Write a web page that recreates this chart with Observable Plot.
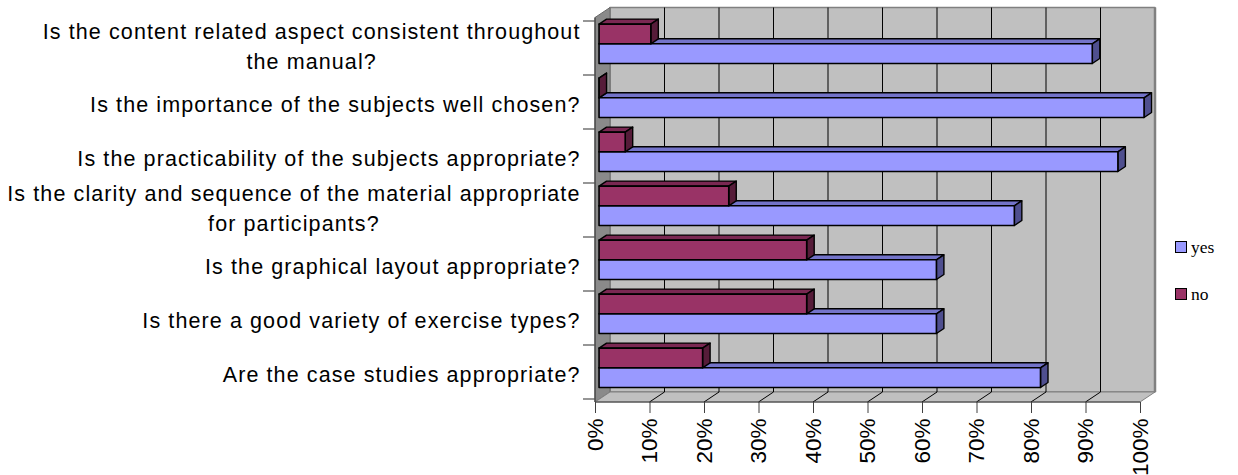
<!DOCTYPE html>
<html>
<head>
<meta charset="utf-8">
<script src="https://cdn.jsdelivr.net/npm/d3@7"></script>
<script src="https://cdn.jsdelivr.net/npm/@observablehq/plot@0.6"></script>
<style>
  body { margin: 0; background: #fff; }
  #wrap { position: relative; width: 1238px; height: 475px; overflow: hidden; }
  #wrap svg { position: absolute; left: 0; top: 0; }
  g[aria-label="text"] text { letter-spacing: 1.1px; }
  .legend { position: absolute; left: 1175px; font-family: "Liberation Serif", "Times New Roman", serif;
            font-size: 17.5px; line-height: 20px; display: flex; align-items: center; color: #000; }
  .sw { width: 10px; height: 10px; border: 1px solid #000; margin-right: 4px; }
</style>
</head>
<body>
<div id="wrap"></div>
<script>
// ---- data ----
const questions = [
  "Is the content related aspect consistent throughout\nthe manual?",
  "Is the importance of the subjects well chosen?",
  "Is the practicability of the subjects appropriate?",
  "Is the clarity and sequence of the material appropriate\nfor participants?",
  "Is the graphical layout appropriate?",
  "Is there a good variety of exercise types?",
  "Are the case studies appropriate?"
];
const yesValues = [90.5, 100, 95.2, 76.2, 61.9, 61.9, 81.0];
const noValues  = [9.5, 0, 4.8, 23.8, 38.1, 38.1, 19.0];
const xTicks = [0, 10, 20, 30, 40, 50, 60, 70, 80, 90, 100];
const seriesNames = ["yes", "no"];
const seriesColors = {
  yes: {front: "#9999ff", top: "#7373c9", side: "#4f4f8f"},
  no:  {front: "#993366", top: "#7a2852", side: "#561c39"}
};

// ---- styling constants ----
const LABEL_FONT = 21.5;
const LABEL_LS = 1.1;
const LABEL_FAMILY = '"Liberation Sans", Arial, sans-serif';

// 3D scene drawn through Plot's scales
function scene(index, scales, values, dims) {
  const {x, y} = scales;
  const bw = y.bandwidth();
  const top = dims.marginTop, bottom = dims.height - dims.marginBottom;
  const D = [15, -10];
  const P = (v, yy, d) => [x(v) + D[0] * d, yy + D[1] * d];
  const g = d3.create("svg:g");
  const poly = (pts, fill, stroke, sw) => g.append("path")
    .attr("d", "M" + pts.map(p => p.join(",")).join("L") + "Z")
    .attr("fill", fill).attr("stroke", stroke).attr("stroke-width", sw)
    .attr("stroke-linejoin", "round");
  const line = (a, b, stroke, sw) => g.append("line")
    .attr("x1", a[0]).attr("y1", a[1]).attr("x2", b[0]).attr("y2", b[1])
    .attr("stroke", stroke).attr("stroke-width", sw);

  const x0 = xTicks[0], x1 = xTicks[xTicks.length - 1];
  // back wall
  poly([P(x0, top, 1), P(x1, top, 1), P(x1, bottom, 1), P(x0, bottom, 1)], "#c0c0c0", "#808080", 1.5);
  // left wall
  poly([P(x0, top, 0), P(x0, top, 1), P(x0, bottom, 1), P(x0, bottom, 0)], "#8a8a8a", "#6a6a6a", 1);
  // floor
  poly([P(x0, bottom, 0), P(x1, bottom, 0), P(x1, bottom, 1), P(x0, bottom, 1)], "#c0c0c0", "#808080", 1);
  // gridlines on back wall and floor
  for (const t of xTicks) {
    if (t > x0 && t < x1) {
      line(P(t, top, 1), P(t, bottom, 1), "#000", 1);
      line(P(t, bottom, 0), P(t, bottom, 1), "#000", 1);
    }
  }
  line(P(x1, top, 1), P(x1, bottom, 1), "#808080", 2.5);
  // axis lines
  line(P(x0, top, 0), P(x0, bottom, 0), "#404040", 1.2);
  line(P(x0, bottom, 0), P(x1, bottom, 0), "#404040", 1.2);
  // y ticks at band boundaries
  const bounds = questions.map(q => y(q)).concat([y(questions[questions.length - 1]) + bw]);
  for (const yy of bounds) line([x(x0) - 12, yy], [x(x0), yy], "#505050", 1.2);

  // bars
  const d1 = 0.27, d2 = 0.77;
  const h = bw * 0.365, pad = (bw - 2 * h) / 2 - 1.5;
  questions.forEach((q, i) => {
    const t0 = y(q) + pad;
    const bars = [
      {slot: 1, v: yesValues[i], c: seriesColors.yes},
      {slot: 0, v: noValues[i], c: seriesColors.no}
    ];
    for (const {slot, v, c} of bars) {
      const t = t0 + slot * h, b = t + h;
      poly([P(0, t, d1), P(v, t, d1), P(v, t, d2), P(0, t, d2)], c.top, "#000", 1.4);
      poly([P(v, t, d1), P(v, t, d2), P(v, b, d2), P(v, b, d1)], c.side, "#000", 1.4);
      poly([P(0, t, d1), P(v, t, d1), P(v, b, d1), P(0, b, d1)], c.front, "#000", 1.6);
    }
  });
  return g.node();
}

// measure label first lines for centered wrapping
const ctx = document.createElement("canvas").getContext("2d");
ctx.font = `${LABEL_FONT}px "Liberation Sans"`;
const labelMarks = questions.map(q => {
  const lines = q.split("\n");
  const first = lines[0];
  const w = ctx.measureText(first).width + first.length * LABEL_LS;
  return Plot.text([q], {
    y: d => d, text: d => d, frameAnchor: "left", dx: -15 - w / 2,
    dy: lines.length > 1 ? -4 : 0,
    textAnchor: "middle", lineAnchor: "middle", lineHeight: 1.38,
    fontSize: LABEL_FONT, fontFamily: LABEL_FAMILY, fill: "#000"
  });
});

const chart = Plot.plot({
  width: 1238,
  height: 475,
  marginLeft: 595,
  marginRight: 98,
  marginTop: 17.5,
  marginBottom: 73,
  style: {fontFamily: LABEL_FAMILY, background: "transparent", overflow: "visible"},
  x: {domain: [xTicks[0], xTicks[xTicks.length - 1]]},
  y: {type: "band", domain: questions, padding: 0, axis: null},
  marks: [
    scene,
    ...labelMarks,
    Plot.axisX({
      ticks: xTicks, tickFormat: d => d + "%", tickRotate: -90,
      tickSize: 11, tickPadding: 5, fontSize: 22.5, stroke: "#404040",
      fill: "#000", label: null
    })
  ]
});
document.getElementById("wrap").appendChild(chart);

// legend
const wrap = document.getElementById("wrap");
seriesNames.forEach((s, i) => {
  const div = document.createElement("div");
  div.className = "legend";
  div.style.top = (237 + i * 47) + "px";
  const sw = document.createElement("span");
  sw.className = "sw";
  sw.style.background = seriesColors[s].front;
  const tx = document.createElement("span");
  tx.textContent = s;
  div.appendChild(sw); div.appendChild(tx);
  wrap.appendChild(div);
});
</script>
</body>
</html>
